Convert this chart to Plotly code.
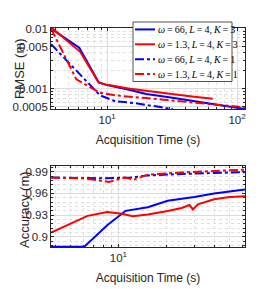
import plotly.graph_objects as go
from plotly.subplots import make_subplots

# ---- data: top panel (RMSE) ----
t_b3 = [3.7, 6.1, 8.6, 10, 15, 20, 30, 50, 80, 115]
rmse_b3 = [0.0100, 0.0048, 0.00128, 0.00115, 0.00095, 0.00082, 0.00072, 0.00061, 0.00052, 0.00046]
t_r3 = [3.8, 6.2, 8.6, 10, 15, 20, 30, 45, 65]
rmse_r3 = [0.0100, 0.0041, 0.00126, 0.00116, 0.00100, 0.00092, 0.00082, 0.00074, 0.00068]
t_b1 = [3.7, 8.8, 11.5, 16, 25, 32]
rmse_b1 = [0.0055, 0.00078, 0.00062, 0.00058, 0.00050, 0.00046]
t_r1 = [3.7, 5.8, 8.8, 12, 20, 35, 60, 115]
rmse_r1 = [0.0100, 0.00143, 0.00086, 0.00077, 0.00070, 0.00062, 0.00055, 0.00049]

# ---- data: bottom panel (Accuracy) ----
ta_b3 = [3.77, 6.1, 8.5, 11.1, 15.3, 20.4, 30, 40, 62.5]
acc_b3 = [0.8865, 0.8865, 0.916, 0.936, 0.941, 0.950, 0.955, 0.960, 0.9655]
ta_r3 = [3.77, 6.4, 8.5, 10.5, 12.3, 15.3, 20.4, 25, 28, 29.4, 31.6, 40, 50, 62.5]
acc_r3 = [0.906, 0.929, 0.9345, 0.932, 0.9285, 0.931, 0.9357, 0.940, 0.944, 0.938, 0.945, 0.952, 0.955, 0.956]
ta_b1 = [3.77, 8, 12, 15.3, 25, 40, 62.5]
acc_b1 = [0.982, 0.981, 0.982, 0.985, 0.987, 0.988, 0.9895]
ta_r1 = [3.77, 6, 8.7, 10, 11, 12.5, 15.3, 25, 40, 62.5]
acc_r1 = [0.982, 0.981, 0.976, 0.980, 0.982, 0.979, 0.986, 0.989, 0.991, 0.993]

ts = "\u2009"
names = [f"<i>ω</i>{ts}={ts}66,{ts}<i>L</i>{ts}={ts}4,{ts}<i>K</i>{ts}={ts}3",
         f"<i>ω</i>{ts}={ts}1.3,{ts}<i>L</i>{ts}={ts}4,{ts}<i>K</i>{ts}={ts}3",
         f"<i>ω</i>{ts}={ts}66,{ts}<i>L</i>{ts}={ts}4,{ts}<i>K</i>{ts}={ts}1",
         f"<i>ω</i>{ts}={ts}1.3,{ts}<i>L</i>{ts}={ts}4,{ts}<i>K</i>{ts}={ts}1"]
colors = ["#0000ff", "#ff0000", "#0000ff", "#ff0000"]
dashes = ["solid", "solid", "dashdot", "dashdot"]

fig = make_subplots(rows=2, cols=1, vertical_spacing=0.26)

top = [(t_b3, rmse_b3), (t_r3, rmse_r3), (t_b1, rmse_b1), (t_r1, rmse_r1)]
bot = [(ta_b3, acc_b3), (ta_r3, acc_r3), (ta_b1, acc_b1), (ta_r1, acc_r1)]
for i in range(4):
    fig.add_trace(go.Scatter(x=top[i][0], y=top[i][1], mode="lines", name=names[i], showlegend=False,
                             line=dict(color=colors[i], width=2, dash=dashes[i])), row=1, col=1)
for i in range(4):
    fig.add_trace(go.Scatter(x=bot[i][0], y=bot[i][1], mode="lines", showlegend=False,
                             line=dict(color=colors[i], width=2, dash=dashes[i])), row=2, col=1)

tickfont = dict(family="Liberation Sans Narrow, Liberation Sans, Arial, sans-serif", size=11.5, color="#262626")
xtitlefont = dict(family="Liberation Sans Narrow, Liberation Sans, Arial, sans-serif", size=12, color="#262626")
ytitlefont = dict(family="Liberation Sans, Arial, sans-serif", size=13, color="#262626")
axcommon = dict(showline=True, linecolor="#262626", linewidth=0.8, mirror="ticks", ticks="inside",
                ticklen=3, tickcolor="#262626", gridcolor="#dcdcdc", gridwidth=0.8,
                tickfont=tickfont, zeroline=False, automargin=False)
minorgrid = dict(showgrid=True, gridcolor="#e0e0e0", griddash="dot", gridwidth=0.8, ticks="inside",
                 ticklen=2, tickcolor="#262626")

fig.update_xaxes(type="log", range=[0.568, 2.061], tickvals=[10, 100],
                 ticktext=["10<sup>1</sup>", "10<sup>2</sup>"],
                 minor=dict(tickvals=[4, 5, 6, 7, 8, 9, 20, 30, 40, 50, 60, 70, 80, 90], **minorgrid),
                 title=dict(text="Acquisition Time (s)", font=xtitlefont, standoff=10),
                 domain=[0, 1], row=1, col=1, **axcommon)
fig.update_yaxes(type="log", range=[-3.337, -1.991],
                 tickvals=[0.0005, 0.001, 0.005, 0.01],
                 ticktext=["0.0005", "0.001", "0.005", "0.01"],
                 minor=dict(tickvals=[0.0006, 0.0007, 0.0008, 0.0009, 0.002, 0.003, 0.004, 0.006, 0.007, 0.008, 0.009], **minorgrid),
                 domain=[0.63, 1.0], row=1, col=1, **axcommon)
fig.update_xaxes(type="log", range=[0.576, 1.796], tickvals=[10],
                 ticktext=["10<sup>1</sup>"],
                 minor=dict(tickvals=[4, 5, 6, 7, 8, 9, 20, 30, 40, 50, 60], **minorgrid),
                 title=dict(text="Acquisition Time (s)", font=xtitlefont, standoff=10),
                 domain=[0, 1], row=2, col=1, **axcommon)
fig.update_yaxes(range=[0.886, 0.998], tickvals=[0.9, 0.93, 0.96, 0.99],
                 ticktext=["0.9", "0.93", "0.96", "0.99"],
                 minor=dict(dtick=0.006, tick0=0.9, **minorgrid),
                 domain=[0.0, 0.37], row=2, col=1, **axcommon)

# y-axis titles (placed in the left margin)
fig.add_annotation(text="RMSE (m)", xref="paper", yref="paper", x=-0.165, y=0.817,
                   textangle=-90, showarrow=False, font=ytitlefont, xanchor="center", yanchor="middle")
fig.add_annotation(text="Accuracy (m)", xref="paper", yref="paper", x=-0.137, y=0.171,
                   textangle=-90, showarrow=False, font=ytitlefont, xanchor="center", yanchor="middle")

# legend box drawn in the top panel (built from names / colors / dashes)
leg_x0, leg_x1, leg_y0, leg_y1 = 0.4227, 0.933, 0.7557, 1.0274
fig.add_shape(type="rect", xref="paper", yref="paper", x0=leg_x0, x1=leg_x1, y0=leg_y0, y1=leg_y1,
              line=dict(color="#262626", width=0.8), fillcolor="white", layer="above")
row_h = (leg_y1 - leg_y0) / 4
for i in range(4):
    yc = leg_y1 - row_h * (i + 0.5)
    fig.add_shape(type="line", xref="paper", yref="paper", x0=0.433, x1=0.536, y0=yc, y1=yc,
                  line=dict(color=colors[i], width=2, dash=dashes[i]), layer="above")
    fig.add_annotation(text=names[i], xref="paper", yref="paper", x=0.5412, y=yc,
                       xanchor="left", yanchor="middle", showarrow=False,
                       font=dict(family="Liberation Serif, DejaVu Serif, serif", size=10, color="black"))

fig.update_layout(
    width=262, height=289,
    margin=dict(l=43, r=25, t=20, b=50),
    paper_bgcolor="white", plot_bgcolor="white",
    showlegend=False,
)

fig.write_html("out.html")
